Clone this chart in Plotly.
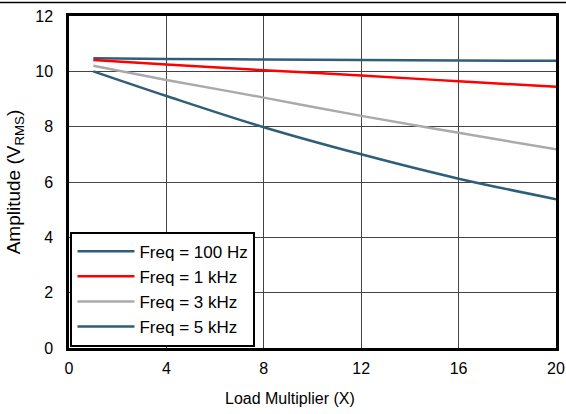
import plotly.graph_objects as go

x_vals = [1, 4, 8, 12, 16, 20]
amp_100hz = [10.47, 10.45, 10.43, 10.41, 10.39, 10.38]
amp_1khz = [10.41, 10.25, 10.04, 9.85, 9.64, 9.44]
amp_3khz = [10.20, 9.69, 9.05, 8.39, 7.78, 7.18]
amp_5khz = [10.00, 9.11, 7.98, 7.00, 6.12, 5.38]

series = [
    ("Freq = 100 Hz", amp_100hz, "#2E5E78"),
    ("Freq = 1 kHz", amp_1khz, "#FF0000"),
    ("Freq = 3 kHz", amp_3khz, "#AAAAAA"),
    ("Freq = 5 kHz", amp_5khz, "#2E5E78"),
]

x_ticks = [0, 4, 8, 12, 16, 20]
y_ticks = [0, 2, 4, 6, 8, 10, 12]
x_title = "Load Multiplier (X)"
y_title = "Amplitude (V<sub>RMS</sub>)"

fig = go.Figure()
for name, vals, color in series:
    fig.add_trace(go.Scatter(x=x_vals, y=vals, mode="lines", name=name,
                             line=dict(color=color, width=2.5, shape="spline")))

font = dict(family="Liberation Sans, Arial, sans-serif", size=16, color="black")
fig.update_layout(
    width=566, height=414,
    margin=dict(l=69, r=10, t=16, b=66, autoexpand=False),
    paper_bgcolor="white", plot_bgcolor="white",
    font=font,
    showlegend=True,
    legend=dict(x=0.003, y=0.004, xanchor="left", yanchor="bottom",
                bordercolor="black", borderwidth=2, bgcolor="white",
                font=dict(size=17), tracegroupgap=0, itemwidth=57),
    xaxis=dict(range=[0, 20], tickvals=x_ticks, showgrid=True, gridcolor="#444444",
               gridwidth=1, zeroline=False, showline=True, linecolor="black",
               linewidth=2.5, mirror=True, ticks="", ticklen=0,
               ticklabelstandoff=4, automargin=False),
    yaxis=dict(range=[0, 12], tickvals=y_ticks, showgrid=True, gridcolor="#444444",
               gridwidth=1, zeroline=False, showline=True, linecolor="black",
               linewidth=2.5, mirror=True, ticks="", ticklen=0,
               ticklabelstandoff=10, automargin=False,
               title=dict(text=y_title, standoff=10)),
    annotations=[dict(text=x_title, xref="paper", yref="paper",
                      x=(290 - 69) / 487, y=-50 / 332, xanchor="center",
                      yanchor="middle", showarrow=False, font=dict(size=16))],
)
fig.add_shape(type="line", xref="paper", yref="paper",
              x0=-69/487, x1=1+10/487, y0=1+13.5/332, y1=1+13.5/332,
              line=dict(color="black", width=1.5))

fig.write_html("out.html", config={"displayModeBar": False},
               post_script="document.body.style.margin='0';document.body.style.padding='0';")
